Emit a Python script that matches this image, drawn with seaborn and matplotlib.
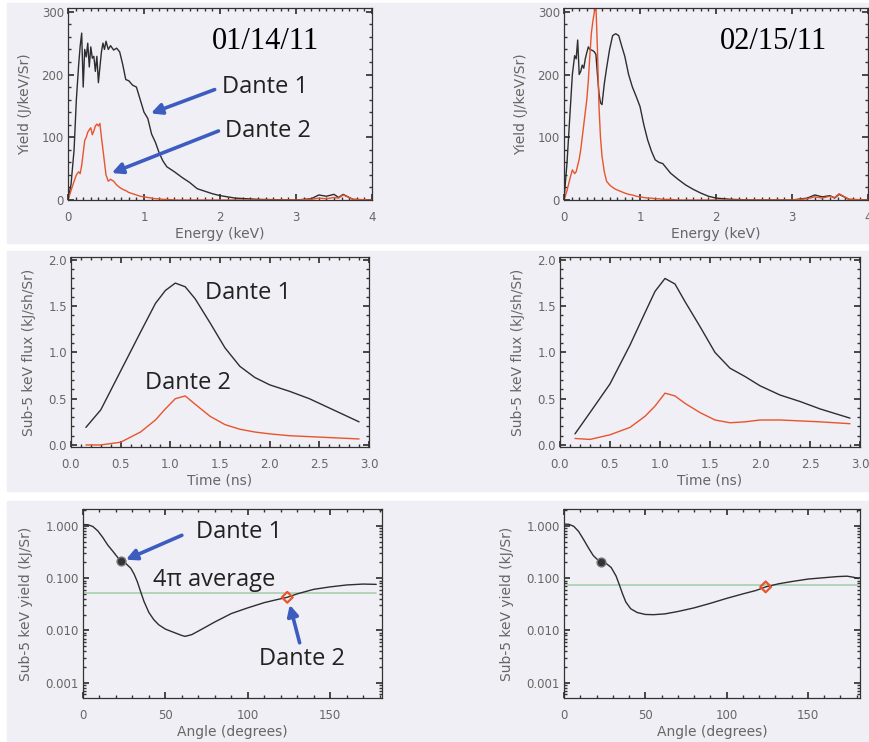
import seaborn as sns
import matplotlib.pyplot as plt
import numpy as np
from matplotlib.patches import Rectangle
from matplotlib.ticker import MultipleLocator, LogLocator, FuncFormatter, NullFormatter

# --- data ---
# energy grid (keV) shared by the four spectra
energy = [0.00, 0.04, 0.08, 0.11, 0.14, 0.16, 0.18, 0.20, 0.22, 0.24,
          0.26, 0.28, 0.30, 0.32, 0.34, 0.36, 0.38, 0.40, 0.42, 0.44,
          0.46, 0.48, 0.50, 0.53, 0.56, 0.60, 0.64, 0.68, 0.72, 0.76,
          0.80, 0.85, 0.90, 0.95, 1.00, 1.05, 1.10, 1.15, 1.20, 1.25,
          1.30, 1.40, 1.50, 1.60, 1.70, 1.80, 1.90, 2.00, 2.20, 2.50,
          3.00, 3.20, 3.30, 3.40, 3.50, 3.56, 3.62, 3.75, 4.00]

spec_d1_jan = [0, 25, 80, 160, 215, 245, 266, 180, 240, 228,
               250, 212, 244, 226, 229, 205, 229, 187, 212, 236,
               250, 240, 253, 240, 246, 239, 242, 236, 216, 192,
               190, 183, 180, 160, 140, 130, 105, 92, 75, 62,
               53, 45, 36, 28, 18, 14, 10, 7, 3, 1,
               0, 2, 8, 6, 9, 4, 9, 1, 0]
spec_d2_jan = [0, 15, 30, 40, 45, 42, 55, 75, 95, 100,
               108, 112, 115, 104, 110, 118, 121, 118, 122, 100,
               80, 60, 40, 30, 33, 30, 24, 20, 17, 15,
               12, 10, 8, 6, 5, 4, 3, 2, 2, 1,
               1, 0, 0, 0, 0, 0, 0, 0, 0, 0,
               0, 1, 3, 2, 4, 3, 8, 1, 0]
spec_d1_feb = [0, 60, 140, 200, 230, 225, 255, 200, 205, 215,
               210, 225, 235, 244, 240, 239, 238, 236, 232, 200,
               170, 155, 152, 185, 210, 240, 262, 265, 262, 245,
               229, 200, 180, 165, 149, 120, 96, 78, 64, 60,
               58, 43, 33, 24, 17, 11, 6, 3, 1, 0,
               0, 3, 8, 5, 7, 3, 9, 1, 0]
spec_d2_feb = [0, 15, 35, 48, 42, 45, 55, 65, 80, 100,
               120, 140, 160, 190, 230, 266, 285, 300, 310, 240,
               150, 100, 70, 45, 30, 24, 20, 17, 15, 13,
               11, 9, 8, 6, 5, 4, 3, 3, 2, 2,
               1, 1, 0, 0, 0, 0, 0, 0, 0, 0,
               0, 2, 5, 3, 6, 4, 10, 1, 0]

# time (ns) and sub-5 keV flux
time_ns = [0.15, 0.3, 0.5, 0.7, 0.85, 0.95, 1.05, 1.15, 1.25, 1.4,
           1.55, 1.7, 1.85, 2.0, 2.2, 2.4, 2.6, 2.9]
flux_d1_jan = [0.19, 0.38, 0.80, 1.22, 1.53, 1.67, 1.75, 1.71, 1.58, 1.32,
               1.05, 0.85, 0.73, 0.65, 0.58, 0.50, 0.40, 0.25]
flux_d2_jan = [0.0, 0.0, 0.03, 0.14, 0.27, 0.39, 0.50, 0.53, 0.44, 0.31,
               0.22, 0.17, 0.14, 0.12, 0.10, 0.09, 0.08, 0.065]
flux_d1_feb = [0.12, 0.35, 0.66, 1.08, 1.43, 1.66, 1.80, 1.74, 1.55, 1.28,
               1.00, 0.83, 0.74, 0.64, 0.54, 0.47, 0.39, 0.29]
flux_d2_feb = [0.07, 0.06, 0.11, 0.19, 0.31, 0.42, 0.56, 0.53, 0.45, 0.35,
               0.27, 0.24, 0.25, 0.27, 0.27, 0.26, 0.25, 0.23]

# angle (degrees) and sub-5 keV yield
angle_jan = [0, 3, 6, 9, 12, 15, 18, 21, 23, 26, 29, 31, 33, 35, 37, 40,
             43, 46, 50, 55, 60, 62, 66, 72, 80, 90, 100, 110, 118, 124,
             130, 140, 150, 160, 170, 178]
yield_jan = [1.06, 1.05, 0.97, 0.80, 0.60, 0.43, 0.33, 0.25, 0.216, 0.19,
             0.155, 0.12, 0.085, 0.055, 0.036, 0.022, 0.016, 0.0128, 0.0106,
             0.0092, 0.0080, 0.0077, 0.0083, 0.0105, 0.0145, 0.021, 0.027,
             0.034, 0.039, 0.043, 0.050, 0.061, 0.068, 0.074, 0.077, 0.076]
angle_feb = [0, 3, 6, 9, 12, 15, 18, 21, 23, 26, 29, 32, 34, 36, 38, 41,
             45, 50, 55, 62, 70, 80, 90, 100, 110, 118, 124, 132, 140, 150,
             160, 168, 174, 178, 181]
yield_feb = [1.08, 1.07, 0.98, 0.78, 0.55, 0.38, 0.27, 0.22, 0.207, 0.19,
             0.16, 0.11, 0.075, 0.05, 0.035, 0.026, 0.022, 0.0202, 0.0200,
             0.0207, 0.023, 0.027, 0.033, 0.041, 0.050, 0.058, 0.068, 0.078,
             0.086, 0.096, 0.102, 0.107, 0.109, 0.104, 0.098]
avg_jan = 0.0516
avg_feb = 0.073
dante_angle = [23, 124]
dante_jan = [0.215, 0.043]
dante_feb = [0.207, 0.068]

dates = ["01/14/11", "02/15/11"]

# --- style ---
sns.set_theme(style="ticks")
plt.rcParams.update({
    "font.family": ["DejaVu Sans"],
    "xtick.direction": "in", "ytick.direction": "in",
    "xtick.top": True, "ytick.right": True,
    "xtick.labelsize": 8.5, "ytick.labelsize": 8.5,
    "xtick.color": "#333333", "ytick.color": "#333333",
    "xtick.labelcolor": "#666666", "ytick.labelcolor": "#666666",
    "xtick.major.size": 4.5, "ytick.major.size": 4.5,
    "xtick.minor.size": 2.2, "ytick.minor.size": 2.2,
    "xtick.minor.visible": True, "ytick.minor.visible": True,
    "axes.labelsize": 10, "axes.labelcolor": "#666666",
    "axes.edgecolor": "#333333", "axes.linewidth": 0.9,
})

BG = "#efeff5"
BLACK = "#2e2e2e"
RED = "#e9542c"
BLUE = "#3d5cc0"
GREEN = "#a9cfae"
W, H = 870, 742

fig = plt.figure(figsize=(W / 100, H / 100), dpi=100)
for y0, y1 in [(3, 243), (251, 491), (501, 742)]:
    fig.patches.append(Rectangle((7 / W, 1 - y1 / H), 1 - 7 / W, (y1 - y0) / H,
                                 transform=fig.transFigure, color=BG, zorder=-10))


def px_axes(x0, y0, x1, y1):
    ax = fig.add_axes([x0 / W, 1 - y1 / H, (x1 - x0) / W, (y1 - y0) / H])
    ax.set_facecolor(BG)
    ax.tick_params(axis="x", pad=8)
    ax.tick_params(axis="y", pad=3)
    return ax


def dante_text(ax, x, y, s):
    ax.text(x, y, s, fontsize=17, family=["Open Sans", "DejaVu Sans"],
            color="#222222", ha="center", va="center")


def arrow(ax, tail, head):
    ax.annotate("", xy=head, xytext=tail,
                arrowprops=dict(arrowstyle="-|>", color=BLUE, lw=2.6,
                                mutation_scale=16, shrinkA=0, shrinkB=0))


# --- row 1: spectra ---
spectra = [(spec_d1_jan, spec_d2_jan), (spec_d1_feb, spec_d2_feb)]
for i, box in enumerate([(68, 8, 372, 200), (564, 8, 868, 200)]):
    ax = px_axes(*box)
    d1, d2 = spectra[i]
    sns.lineplot(x=energy, y=d1, ax=ax, color=BLACK, lw=1.0)
    sns.lineplot(x=energy, y=d2, ax=ax, color=RED, lw=1.0)
    ax.set_xlim(0, 4)
    ax.set_ylim(0, 306)
    ax.xaxis.set_major_locator(MultipleLocator(1))
    ax.xaxis.set_minor_locator(MultipleLocator(0.1))
    ax.yaxis.set_major_locator(MultipleLocator(100))
    ax.yaxis.set_minor_locator(MultipleLocator(20))
    ax.set_xlabel("Energy (keV)", labelpad=2)
    ax.set_ylabel("Yield (J/keV/Sr)", labelpad=7)
    ax.text(2.6 + 0.16 * i, 252, dates[i], fontsize=22,
            family="Liberation Serif", color="black", ha="center", va="center")
    if i == 0:
        dante_text(ax, 2.59, 180, "Dante 1")
        arrow(ax, (1.93, 176), (1.09, 138))
        dante_text(ax, 2.63, 110, "Dante 2")
        arrow(ax, (1.98, 110), (0.575, 43))

# --- row 2: sub-5 keV flux vs time ---
fluxes = [(flux_d1_jan, flux_d2_jan), (flux_d1_feb, flux_d2_feb)]
for i, box in enumerate([(71, 257, 369, 447), (560, 257, 860, 447)]):
    ax = px_axes(*box)
    d1, d2 = fluxes[i]
    sns.lineplot(x=time_ns, y=d1, ax=ax, color=BLACK, lw=1.0)
    sns.lineplot(x=time_ns, y=d2, ax=ax, color=RED, lw=1.0)
    ax.set_xlim(0, 3)
    ax.set_ylim(-0.022, 2.032)
    ax.xaxis.set_major_locator(MultipleLocator(0.5))
    ax.xaxis.set_minor_locator(MultipleLocator(0.1))
    ax.yaxis.set_major_locator(MultipleLocator(0.5))
    ax.yaxis.set_minor_locator(MultipleLocator(0.1))
    ax.xaxis.set_major_formatter(FuncFormatter(lambda v, p: f"{v:.1f}"))
    ax.yaxis.set_major_formatter(FuncFormatter(lambda v, p: f"{v:.1f}"))
    ax.set_xlabel("Time (ns)", labelpad=2)
    ax.set_ylabel("Sub-5 keV flux (kJ/sh/Sr)", labelpad=9)
    if i == 0:
        dante_text(ax, 1.78, 1.64, "Dante 1")
        dante_text(ax, 1.18, 0.67, "Dante 2")

# --- row 3: sub-5 keV yield vs angle ---
angles = [(angle_jan, yield_jan, avg_jan, dante_jan),
          (angle_feb, yield_feb, avg_feb, dante_feb)]
for i, box in enumerate([(83, 509, 382, 698), (564, 509, 860, 698)]):
    ax = px_axes(*box)
    a, yv, avg, pts = angles[i]
    sns.lineplot(x=[0, a[-1]], y=[avg, avg], ax=ax, color=GREEN, lw=1.2)
    sns.lineplot(x=a, y=yv, ax=ax, color=BLACK, lw=1.0)
    sns.scatterplot(x=dante_angle[:1], y=pts[:1], ax=ax, color="#333333",
                    edgecolor="#777777", s=40, linewidth=1, zorder=5)
    sns.scatterplot(x=dante_angle[1:], y=pts[1:], ax=ax, marker="D",
                    facecolor="none", edgecolor=RED, s=30, linewidth=1.6,
                    zorder=5)
    ax.set_yscale("log")
    ax.set_xlim(0, 181.5 if i == 0 else 182)
    ax.set_ylim(5.1e-4, 2.1)
    ax.xaxis.set_major_locator(MultipleLocator(50))
    ax.xaxis.set_minor_locator(MultipleLocator(10))
    ax.yaxis.set_major_locator(LogLocator(base=10, numticks=10))
    ax.yaxis.set_minor_locator(LogLocator(base=10, subs=np.arange(2, 10), numticks=10))
    ax.yaxis.set_minor_formatter(NullFormatter())
    ax.yaxis.set_major_formatter(FuncFormatter(lambda v, p: f"{v:.3f}"))
    ax.set_xlabel("Angle (degrees)", labelpad=2)
    ax.set_ylabel("Sub-5 keV yield (kJ/Sr)", labelpad=9)
    if i == 0:
        dante_text(ax, 95, 0.77, "Dante 1")
        arrow(ax, (60, 0.66), (26, 0.225))
        dante_text(ax, 79.5, 0.093, "4\u03c0 average")
        dante_text(ax, 133, 0.0029, "Dante 2")
        arrow(ax, (131.5, 0.0058), (125.5, 0.031))

fig.savefig("out.png", dpi=100)
